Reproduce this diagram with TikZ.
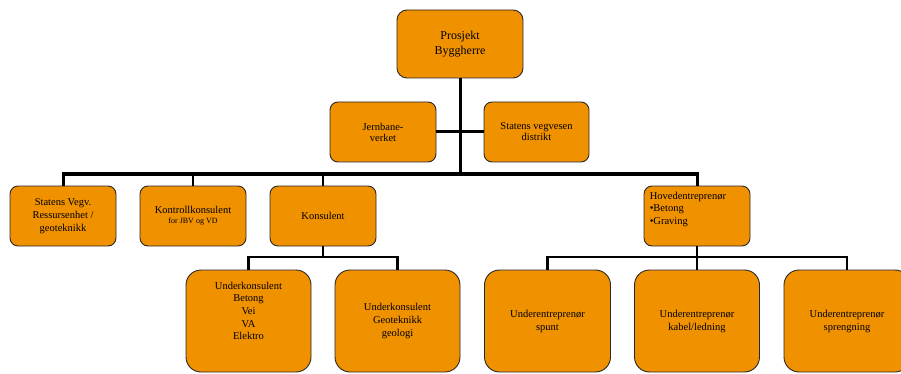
\documentclass[tikz,border=0pt]{standalone}
\usepackage{fontspec}
\setmainfont{Liberation Serif}
\definecolor{boxfill}{RGB}{240,145,0}
\definecolor{boxline}{RGB}{40,40,40}
\begin{document}
\begin{tikzpicture}[x=1pt,y=-1pt,
  box/.style={draw=boxline,line width=0.9pt,fill=boxfill,rounded corners=8pt,
    minimum width=106pt,minimum height=60pt,inner sep=0pt,align=center,
    font=\fontsize{10.5}{13}\selectfont},
  bigbox/.style={box,rounded corners=15pt,minimum width=125pt,minimum height=102pt},
  txt/.style={inner sep=0pt,align=center,font=\fontsize{10.5}{12.7}\selectfont},
  conn/.style={line width=2.6pt,draw=black},
  trunk/.style={line width=3pt,draw=black}]
\useasboundingbox (0,0) rectangle (901,374);
\clip (0,0) rectangle (901,374);
% nodes
\node[box,rounded corners=10pt,minimum width=126pt,minimum height=68pt,
  font=\fontsize{12}{14.5}\selectfont] (top) at (460,44) {Prosjekt\\Byggherre};
\node[box,font=\fontsize{10.5}{11}\selectfont] (jbv) at (383,132) {Jernbane-\\verket};
\node[box,minimum width=105pt,font=\fontsize{10.5}{11}\selectfont] (svd) at (536.5,132) {Statens vegvesen\\distrikt};
\node[box] (sv) at (63,216) {Statens Vegv.\\Ressursenhet /\\geoteknikk};
\node[box] (kk) at (193,216) {Kontrollkonsulent\\[-3pt]{\fontsize{8}{9}\selectfont for JBV og VD}};
\node[box] (kons) at (323,216) {Konsulent};
\node[box] (hov) at (697,216) {};
\node[txt,align=left,anchor=north west] (hovt) at ([xshift=6pt,yshift=-6pt]hov.north west)
  {Hovedentreprenør\\•Betong\\•Graving};
\node[bigbox] (u1) at (248.5,321) {};
\node[txt] (u1t) at ([yshift=10pt]u1.center) {Underkonsulent\\Betong\\Vei\\VA\\Elektro};
\node[bigbox] (u2) at (397.5,321) {Underkonsulent\\Geoteknikk\\geologi};
\node[bigbox,minimum width=126pt] (ue1) at (547.5,321) {Underentreprenør\\spunt};
\node[bigbox] (ue2) at (697,321) {Underentreprenør\\kabel/ledning};
\node[bigbox,minimum width=126pt] (ue3) at (847,321) {Underentreprenør\\sprengning};
% junction coordinates
\coordinate (b1) at (460,174);
\coordinate (k1) at (323,257);
\coordinate (h1) at (697,257);
% connectors
\draw[trunk] (top.south) -- (b1);
\draw[trunk] (jbv.east) -- (svd.west);
\draw[trunk] (sv.north) |- (b1) -| (hov.north);
\draw[conn] (kk.north) -- (kk.north |- b1);
\draw[conn] (kons.north) -- (kons.north |- b1);
\draw[conn] (kons.south) -- (k1);
\draw[conn] (u1.north) |- (k1) -| (u2.north);
\draw[conn] (hov.south) -- (ue2.north);
\draw[conn] (ue1.north) |- (h1) -| (ue3.north);
\end{tikzpicture}
\end{document}
